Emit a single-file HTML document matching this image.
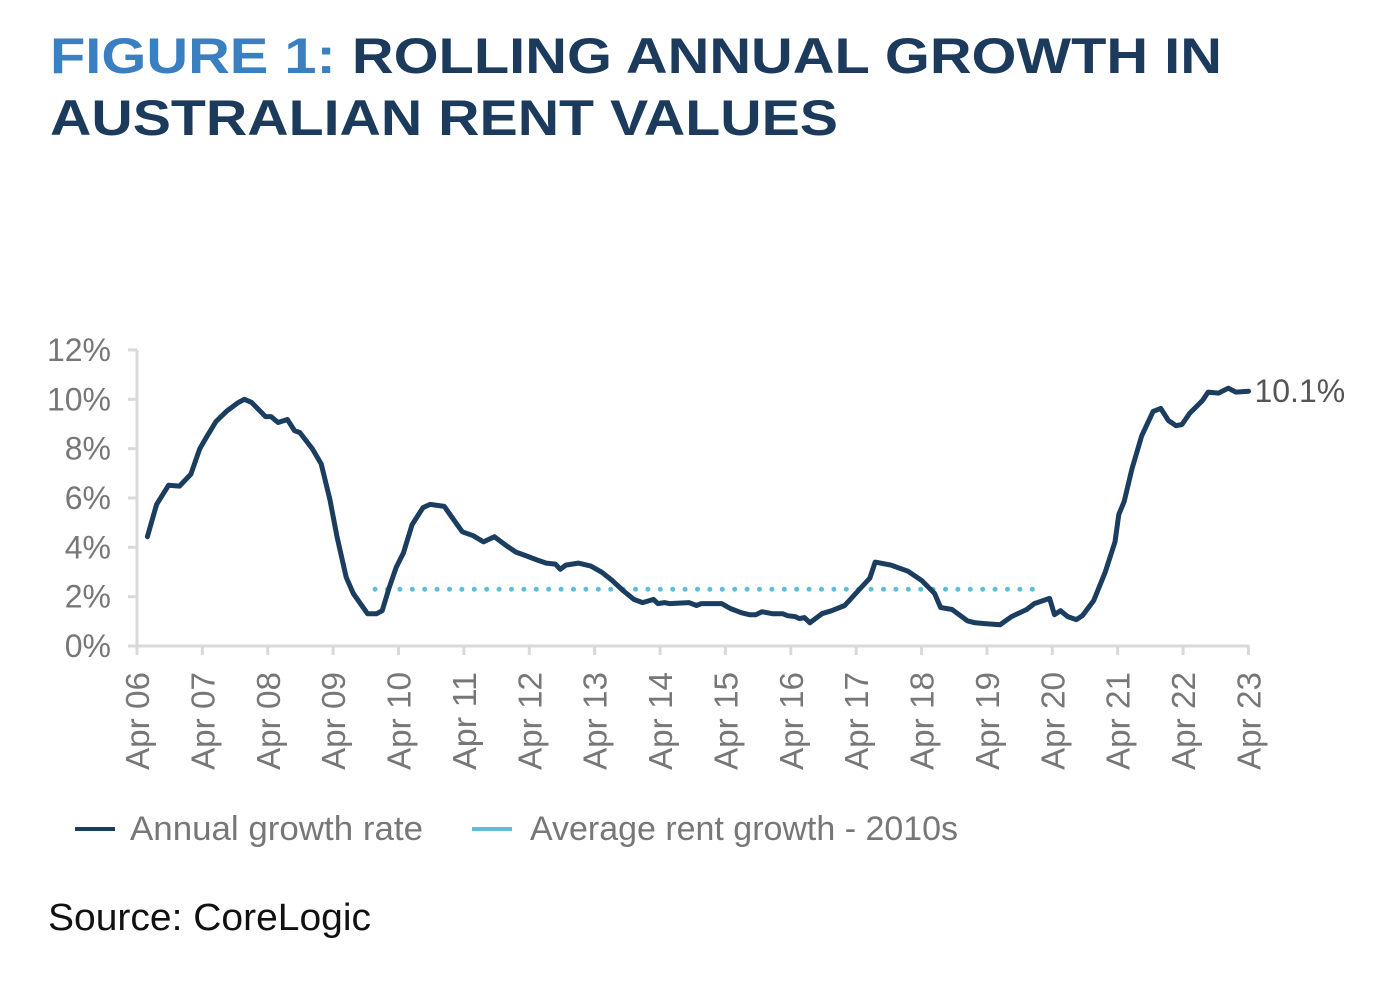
<!DOCTYPE html>
<html><head><meta charset="utf-8"><style>
html,body{margin:0;padding:0;background:#fff;}
svg{display:block;font-family:"Liberation Sans","DejaVu Sans",sans-serif;}
</style></head><body>
<svg id="chart" width="1394" height="982" viewBox="0 0 1394 982" xmlns="http://www.w3.org/2000/svg">
<g font-weight="bold" font-size="50" fill="#1b3a5c">
<text x="50" y="73" textLength="1172" lengthAdjust="spacingAndGlyphs"><tspan fill="#3a7fc1">FIGURE 1: </tspan>ROLLING ANNUAL GROWTH IN</text>
<text x="50" y="135" textLength="788" lengthAdjust="spacingAndGlyphs">AUSTRALIAN RENT VALUES</text>
</g>
<g id="axes"></g>
<g id="plot"></g>
<g font-size="34" fill="#777">
<g><line x1="75" y1="829" x2="115" y2="829" stroke="#1b3d5f" stroke-width="4"/><text x="130" y="840" textLength="293" lengthAdjust="spacingAndGlyphs">Annual growth rate</text></g>
<g><line x1="472" y1="829" x2="512" y2="829" stroke="#5bbfd8" stroke-width="4"/><text x="530" y="840" textLength="428" lengthAdjust="spacingAndGlyphs">Average rent growth - 2010s</text></g>
</g>
<text x="48" y="930" font-size="38" fill="#111" textLength="323" lengthAdjust="spacingAndGlyphs">Source: CoreLogic</text>
</svg>
<script>
const yTicks = [0,2,4,6,8,10,12];
const xTickLabels = ["Apr 06","Apr 07","Apr 08","Apr 09","Apr 10","Apr 11","Apr 12","Apr 13","Apr 14","Apr 15","Apr 16","Apr 17","Apr 18","Apr 19","Apr 20","Apr 21","Apr 22","Apr 23"];
// months since Apr 2006
const months = [1.9,3.6,5.8,7.8,9.9,11.5,12.8,14.5,16.4,18.4,19.7,21.0,23.6,24.6,25.9,27.6,28.9,29.9,32.2,33.8,35.4,36.7,38.4,39.7,41.0,42.3,44.0,45.0,46.3,47.6,48.9,50.5,52.5,53.8,56.4,57.7,59.7,61.7,63.6,65.6,67.6,69.5,71.5,73.5,75.1,76.8,77.7,78.7,81.0,83.3,85.3,87.2,89.2,91.2,92.8,94.8,95.6,96.8,97.7,101.3,102.7,103.6,107.3,108.9,110.9,112.4,113.6,114.7,116.6,118.5,119.4,120.8,121.6,122.5,123.5,125.7,127.5,129.9,132.4,134.5,135.5,138.4,141.5,144.0,146.4,147.5,149.6,152.4,153.8,155.9,158.4,160.5,163.3,164.7,167.5,168.4,169.5,170.8,172.4,173.5,175.6,177.7,179.5,180.2,181.2,182.6,184.4,186.5,187.9,189.3,190.7,191.8,193.2,195.6,196.6,198.5,200.3,201.7,204.0];
const growth = [4.43,5.74,6.52,6.48,6.97,7.99,8.48,9.10,9.51,9.84,10.0,9.88,9.30,9.30,9.06,9.18,8.73,8.65,7.99,7.38,5.94,4.43,2.79,2.13,1.72,1.31,1.31,1.43,2.38,3.20,3.77,4.92,5.61,5.74,5.66,5.25,4.63,4.47,4.22,4.43,4.10,3.81,3.65,3.48,3.36,3.32,3.11,3.28,3.36,3.24,2.99,2.66,2.25,1.89,1.76,1.89,1.72,1.76,1.72,1.76,1.64,1.72,1.72,1.52,1.35,1.27,1.27,1.39,1.31,1.31,1.23,1.19,1.11,1.15,0.94,1.31,1.43,1.64,2.25,2.75,3.40,3.28,3.03,2.66,2.13,1.56,1.48,1.02,0.94,0.90,0.86,1.19,1.48,1.72,1.93,1.27,1.43,1.19,1.07,1.23,1.84,2.99,4.22,5.33,5.86,7.17,8.52,9.51,9.63,9.14,8.93,8.98,9.43,9.96,10.29,10.25,10.45,10.29,10.33];
const avgStart = 43.7, avgEnd = 164.9;
const avgValue = [2.3];
const lastLabel = "10.1%";

const NS="http://www.w3.org/2000/svg";
const X0=137, PX_PER_MONTH=65.38/12, Y0=646, PX_PER_PCT=24.67;
const xs = m => X0 + m*PX_PER_MONTH;
const ys = v => Y0 - v*PX_PER_PCT;
function mk(tag, attrs, parent){const e=document.createElementNS(NS,tag);for(const k in attrs)e.setAttribute(k,attrs[k]);parent.appendChild(e);return e;}
const axes=document.getElementById('axes'), plot=document.getElementById('plot');
const axisColor="#d9d9d9", labelColor="#777";
const ya=mk('line',{x1:137,y1:ys(12),x2:137,y2:Y0+1,stroke:axisColor,'stroke-width':3},axes);


yTicks.forEach(v=>{
  const t=mk('line',{x1:128,y1:ys(v),x2:137,y2:ys(v),stroke:axisColor,'stroke-width':3},axes);
  
  
  const l=mk('text',{x:111,y:ys(v)+11,'text-anchor':'end','font-size':32,fill:labelColor},axes);
  
  
  l.textContent=v+'%';
});
const xa=mk('line',{x1:128,y1:Y0,x2:xs(204)+1,y2:Y0,stroke:axisColor,'stroke-width':3},axes);


xTickLabels.forEach((lab,i)=>{
  const x=xs(i*12);
  const t=mk('line',{x1:x,y1:Y0,x2:x,y2:Y0+9,stroke:axisColor,'stroke-width':3},axes);
  
  
  const l=mk('text',{x:0,y:0,'text-anchor':'end','font-size':33,fill:labelColor,textLength:98,lengthAdjust:'spacingAndGlyphs',transform:`translate(${x+12},672) rotate(-90)`},axes);
  
  
  l.textContent=lab;
});
const av=mk('line',{x1:xs(avgStart),y1:ys(avgValue[0]),x2:xs(avgEnd),y2:ys(avgValue[0]),stroke:'#5bbfd8','stroke-width':5,'stroke-linecap':'round','stroke-dasharray':'0 12.4'},plot);


const d=months.map((m,i)=>(i?'L':'M')+xs(m).toFixed(1)+','+ys(growth[i]).toFixed(1)).join(' ');
const p=mk('path',{d:d,fill:'none',stroke:'#1b3d5f','stroke-width':5,'stroke-linejoin':'round','stroke-linecap':'round'},plot);


const n=months.length-1;
const el=mk('text',{x:xs(months[n])+6,y:ys(growth[n])+11,'font-size':32,fill:'#555'},plot);


el.textContent=lastLabel;
</script>
</body></html>
